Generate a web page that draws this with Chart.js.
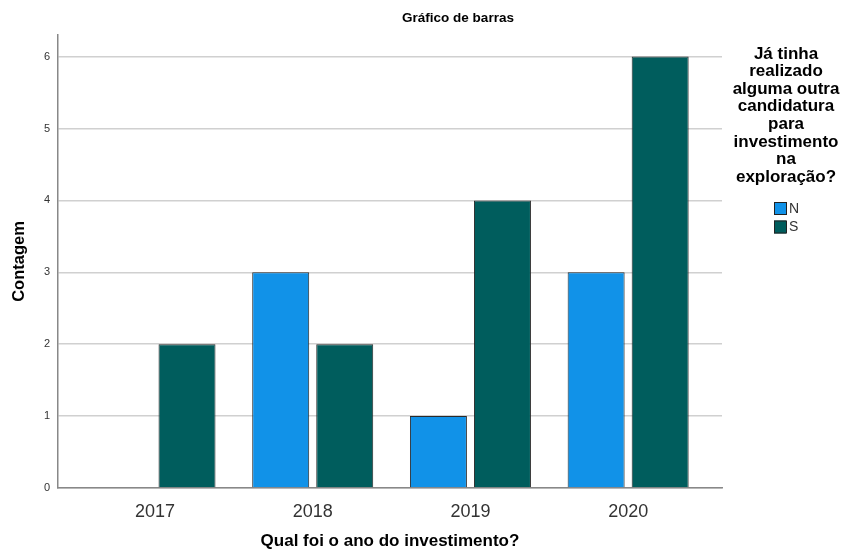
<!DOCTYPE html>
<html>
<head>
<meta charset="utf-8">
<script src="https://cdn.jsdelivr.net/npm/chart.js@4"></script>
<style>
  html, body { margin:0; padding:0; background:#fff; }
  #wrap { width:846px; height:552px; }
</style>
</head>
<body>
<div id="wrap"><canvas id="barChart" width="846" height="552"></canvas></div>
<script>
/* Gráfico de barras estilo SPSS */
const anos = ["2017", "2018", "2019", "2020"];
const serieN = [null, 3, 1, 3];
const serieS = [2, 2, 4, 6];
const yTicks = [0, 1, 2, 3, 4, 5, 6];
const legendaTitulo = ["Já tinha", "realizado", "alguma outra", "candidatura", "para", "investimento", "na", "exploração?"];
const legendaItens = ["N", "S"];
const cores = ["#1192e8", "#005d5d"];

const FONT = "'Liberation Sans', Arial, sans-serif";

const toPoints = (arr) => arr.map((v, i) => ({ x: i, y: v }));

// título e legenda desenhados à mão
const extras = {
  id: "extras",
  afterDraw(chart){
    const c = chart.ctx;
    c.save();
    c.fillStyle = "#000";
    c.textAlign = "center";
    c.textBaseline = "middle";
    c.font = "bold 13.5px " + FONT;
    c.fillText("Gráfico de barras", 458, 18);

    c.font = "bold 17px " + FONT;
    legendaTitulo.forEach((t, i) => c.fillText(t, 786, 54 + i * 17.6));

    c.font = "14px " + FONT;
    c.textAlign = "left";
    legendaItens.forEach((t, i) => {
      const y = 202 + i * 18.5;
      c.fillStyle = cores[i];
      c.fillRect(774, y, 12, 13);
      c.strokeStyle = "#222";
      c.lineWidth = 1;
      c.strokeRect(774.5, y + 0.5, 12, 12);
      c.fillStyle = "#333";
      c.fillText(t, 789, y + 7);
    });
    c.restore();
  }
};

new Chart(document.getElementById("barChart").getContext("2d"), {
  type: "bar",
  data: {
    datasets: [
      { label: "N", data: toPoints(serieN), backgroundColor: cores[0], borderColor: "#2a2a2a", borderWidth: 1 },
      { label: "S", data: toPoints(serieS), backgroundColor: cores[1], borderColor: "#2a2a2a", borderWidth: 1 }
    ]
  },
  options: {
    responsive: false,
    animation: false,
    categoryPercentage: 0.812,
    barPercentage: 0.89,
    layout: { padding: { left: 10, top: 35, right: 124, bottom: 0 } },
    plugins: { legend: { display: false }, tooltip: { enabled: false }, title: { display: false } },
    scales: {
      x: {
        type: "linear",
        offset: false,
        min: -0.615,
        max: 3.595,
        afterBuildTicks: (s) => { s.ticks = anos.map((_, i) => ({ value: i })); },
        afterFit: (s) => { s.height = 64; },
        grid: { display: false },
        border: { display: true, color: "#888", width: 1.5 },
        ticks: {
          autoSkip: false,
          maxRotation: 0,
          padding: 5,
          color: "#333",
          font: { family: FONT, size: 18 },
          callback: (v) => anos[v]
        },
        title: {
          display: true,
          text: "Qual foi o ano do investimento?",
          color: "#000",
          font: { family: FONT, size: 17, weight: "bold" },
          padding: { top: 0, bottom: 0 }
        }
      },
      y: {
        min: 0,
        max: 6.3,
        afterBuildTicks: (s) => { s.ticks = yTicks.map((v) => ({ value: v })); },
        afterFit: (s) => { s.width = 48; },
        grid: { color: "#d0d0d0", lineWidth: 1.5, drawTicks: false },
        border: { display: true, color: "#888", width: 1.5 },
        ticks: {
          padding: 8,
          color: "#333",
          font: { family: FONT, size: 11 },
          callback: (v) => String(v)
        },
        title: {
          display: true,
          text: "Contagem",
          color: "#000",
          font: { family: FONT, size: 16.5, weight: "bold" },
          padding: 0
        }
      }
    }
  },
  plugins: [extras]
});
</script>
</body>
</html>
